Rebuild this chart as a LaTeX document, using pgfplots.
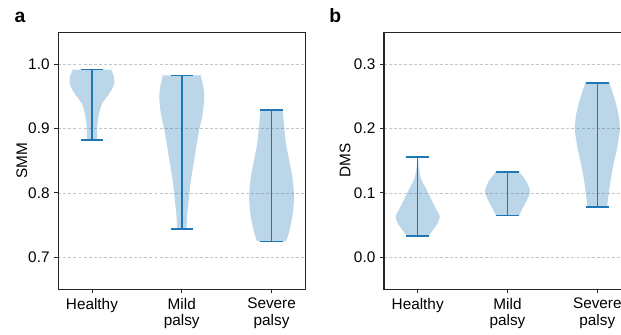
\documentclass[border=0pt]{standalone}
\usepackage{pgfplots}
\usepackage{pgfplotstable}
\pgfplotsset{compat=1.18}
\usepackage{fontspec}
\setmainfont{Liberation Sans}
\definecolor{c0}{RGB}{31,119,180}

% violin outlines: height y, half-width w, side s (+1 right, -1 left)
\pgfplotstableread{
y w s
0.8825 0.056 1
0.8825 0.056 1
0.895 0.057 1
0.908 0.062 1
0.924 0.080 1
0.9395 0.115 1
0.955 0.195 1
0.965 0.235 1
0.973 0.250 1
0.983 0.240 1
0.992 0.210 1
0.992 0.210 1
0.992 0.210 -1
0.992 0.210 -1
0.983 0.240 -1
0.973 0.250 -1
0.965 0.235 -1
0.955 0.195 -1
0.9395 0.115 -1
0.924 0.080 -1
0.908 0.062 -1
0.895 0.057 -1
0.8825 0.056 -1
0.8825 0.056 -1
}\smmH
\pgfplotstableread{
y w s
0.744 0.053 1
0.744 0.053 1
0.766 0.060 1
0.792 0.080 1
0.818 0.100 1
0.844 0.130 1
0.870 0.160 1
0.895 0.190 1
0.921 0.230 1
0.947 0.250 1
0.965 0.240 1
0.983 0.210 1
0.983 0.210 1
0.983 0.210 -1
0.983 0.210 -1
0.965 0.240 -1
0.947 0.250 -1
0.921 0.230 -1
0.895 0.190 -1
0.870 0.160 -1
0.844 0.130 -1
0.818 0.100 -1
0.792 0.080 -1
0.766 0.060 -1
0.744 0.053 -1
0.744 0.053 -1
}\smmM
\pgfplotstableread{
y w s
0.7245 0.160 1
0.7245 0.160 1
0.732 0.180 1
0.748 0.210 1
0.7686 0.237 1
0.7945 0.250 1
0.8255 0.230 1
0.851 0.195 1
0.877 0.160 1
0.903 0.140 1
0.929 0.124 1
0.929 0.124 1
0.929 0.124 -1
0.929 0.124 -1
0.903 0.140 -1
0.877 0.160 -1
0.851 0.195 -1
0.8255 0.230 -1
0.7945 0.250 -1
0.7686 0.237 -1
0.748 0.210 -1
0.732 0.180 -1
0.7245 0.160 -1
0.7245 0.160 -1
}\smmS
\pgfplotstableread{
y w s
0.0326 0.120 1
0.0326 0.120 1
0.0404 0.160 1
0.051 0.215 1
0.0637 0.245 1
0.0767 0.197 1
0.092 0.144 1
0.108 0.088 1
0.123 0.034 1
0.140 0.012 1
0.156 0.004 1
0.156 0.004 1
0.156 0.004 -1
0.156 0.004 -1
0.140 0.012 -1
0.123 0.034 -1
0.108 0.088 -1
0.092 0.144 -1
0.0767 0.197 -1
0.0637 0.245 -1
0.051 0.215 -1
0.0404 0.160 -1
0.0326 0.120 -1
0.0326 0.120 -1
}\dmsH
\pgfplotstableread{
y w s
0.0647 0.130 1
0.0647 0.130 1
0.074 0.160 1
0.087 0.210 1
0.1025 0.250 1
0.118 0.210 1
0.1326 0.130 1
0.1326 0.130 1
0.1326 0.130 -1
0.1326 0.130 -1
0.118 0.210 -1
0.1025 0.250 -1
0.087 0.210 -1
0.074 0.160 -1
0.0647 0.130 -1
0.0647 0.130 -1
}\dmsM
\pgfplotstableread{
y w s
0.0783 0.110 1
0.0783 0.110 1
0.0974 0.125 1
0.118 0.146 1
0.144 0.180 1
0.170 0.220 1
0.198 0.250 1
0.2216 0.236 1
0.2475 0.190 1
0.2713 0.133 1
0.2713 0.133 1
0.2713 0.133 -1
0.2713 0.133 -1
0.2475 0.190 -1
0.2216 0.236 -1
0.198 0.250 -1
0.170 0.220 -1
0.144 0.180 -1
0.118 0.146 -1
0.0974 0.125 -1
0.0783 0.110 -1
0.0783 0.110 -1
}\dmsS

\pgfplotsset{
  vstyle/.style={
    scale only axis, width=185.25pt, height=192.75pt,
    xmin=0.625, xmax=3.375,
    xtick={1,2,3},
    xticklabels={Healthy,{Mild\\palsy},{Severe\\palsy}},
    xtick pos=bottom, ytick pos=left,
    tick align=outside, major tick length=3pt,
    tick style={black!85, line width=0.6pt},
    axis line style={line width=1pt, black!85},
    ymajorgrids, grid style={gray!45, dash pattern=on 2.2pt off 1.6pt, line width=0.5pt},
    xticklabel style={align=center, font=\fontsize{11.5}{12.5}\selectfont},
    yticklabel style={font=\fontsize{11.5}{13}\selectfont,
      /pgf/number format/.cd, fixed, fixed zerofill, precision=1},
    label style={font=\fontsize{11.5}{13}\selectfont},
    /pgf/number format/assume math mode=true,
  },
  vline/.style={c0, line width=1.1pt},
  vfill/.style={fill=c0, fill opacity=0.3, draw=none, smooth, tension=0.45},
}

\begin{document}
\begin{tikzpicture}
\begin{axis}[vstyle, at={(43.7pt,34.3pt)}, anchor=south west,
  ymin=0.65, ymax=1.05, ytick={0.7,0.8,0.9,1.0},
  ylabel={SMM}, ylabel style={at={(axis description cs:-0.147,0.5)}, anchor=center}]
  \addplot[vfill] table[x expr=1+\thisrow{s}*\thisrow{w}, y=y] {\smmH} -- cycle;
  \addplot[vfill] table[x expr=2+\thisrow{s}*\thisrow{w}, y=y] {\smmM} -- cycle;
  \addplot[vfill] table[x expr=3+\thisrow{s}*\thisrow{w}, y=y] {\smmS} -- cycle;
  \addplot[vline] coordinates {(1,0.8825) (1,0.992)};
  \addplot[vline] coordinates {(0.875,0.992) (1.125,0.992)};
  \addplot[vline] coordinates {(0.875,0.8825) (1.125,0.8825)};
  \addplot[vline] coordinates {(2,0.744) (2,0.983)};
  \addplot[vline] coordinates {(1.875,0.983) (2.125,0.983)};
  \addplot[vline] coordinates {(1.875,0.744) (2.125,0.744)};
  \addplot[vline] coordinates {(3,0.7245) (3,0.929)};
  \addplot[vline] coordinates {(2.875,0.929) (3.125,0.929)};
  \addplot[vline] coordinates {(2.875,0.7245) (3.125,0.7245)};
\end{axis}

\begin{axis}[vstyle, at={(288pt,34.3pt)}, anchor=south west,
  ymin=-0.05, ymax=0.35, ytick={0,0.1,0.2,0.3},
  ylabel={DMS}, ylabel style={at={(axis description cs:-0.158,0.5)}, anchor=center}]
  \addplot[vfill] table[x expr=1+\thisrow{s}*\thisrow{w}, y=y] {\dmsH} -- cycle;
  \addplot[vfill] table[x expr=2+\thisrow{s}*\thisrow{w}, y=y] {\dmsM} -- cycle;
  \addplot[vfill] table[x expr=3+\thisrow{s}*\thisrow{w}, y=y] {\dmsS} -- cycle;
  \addplot[vline] coordinates {(1,0.0326) (1,0.156)};
  \addplot[vline] coordinates {(0.875,0.156) (1.125,0.156)};
  \addplot[vline] coordinates {(0.875,0.0326) (1.125,0.0326)};
  \addplot[vline] coordinates {(2,0.0647) (2,0.1326)};
  \addplot[vline] coordinates {(1.875,0.1326) (2.125,0.1326)};
  \addplot[vline] coordinates {(1.875,0.0647) (2.125,0.0647)};
  \addplot[vline] coordinates {(3,0.0783) (3,0.2713)};
  \addplot[vline] coordinates {(2.875,0.2713) (3.125,0.2713)};
  \addplot[vline] coordinates {(2.875,0.0783) (3.125,0.0783)};
\end{axis}

\node[anchor=base west, inner sep=0pt, font=\fontsize{14.5}{17}\selectfont\bfseries] at (10.8pt,234.2pt) {a};
\node[anchor=base west, inner sep=0pt, font=\fontsize{14.5}{17}\selectfont\bfseries] at (246.8pt,234.2pt) {b};

\pgfresetboundingbox
\useasboundingbox (0,0) rectangle (465.75pt,251.25pt);
\end{tikzpicture}
\end{document}
